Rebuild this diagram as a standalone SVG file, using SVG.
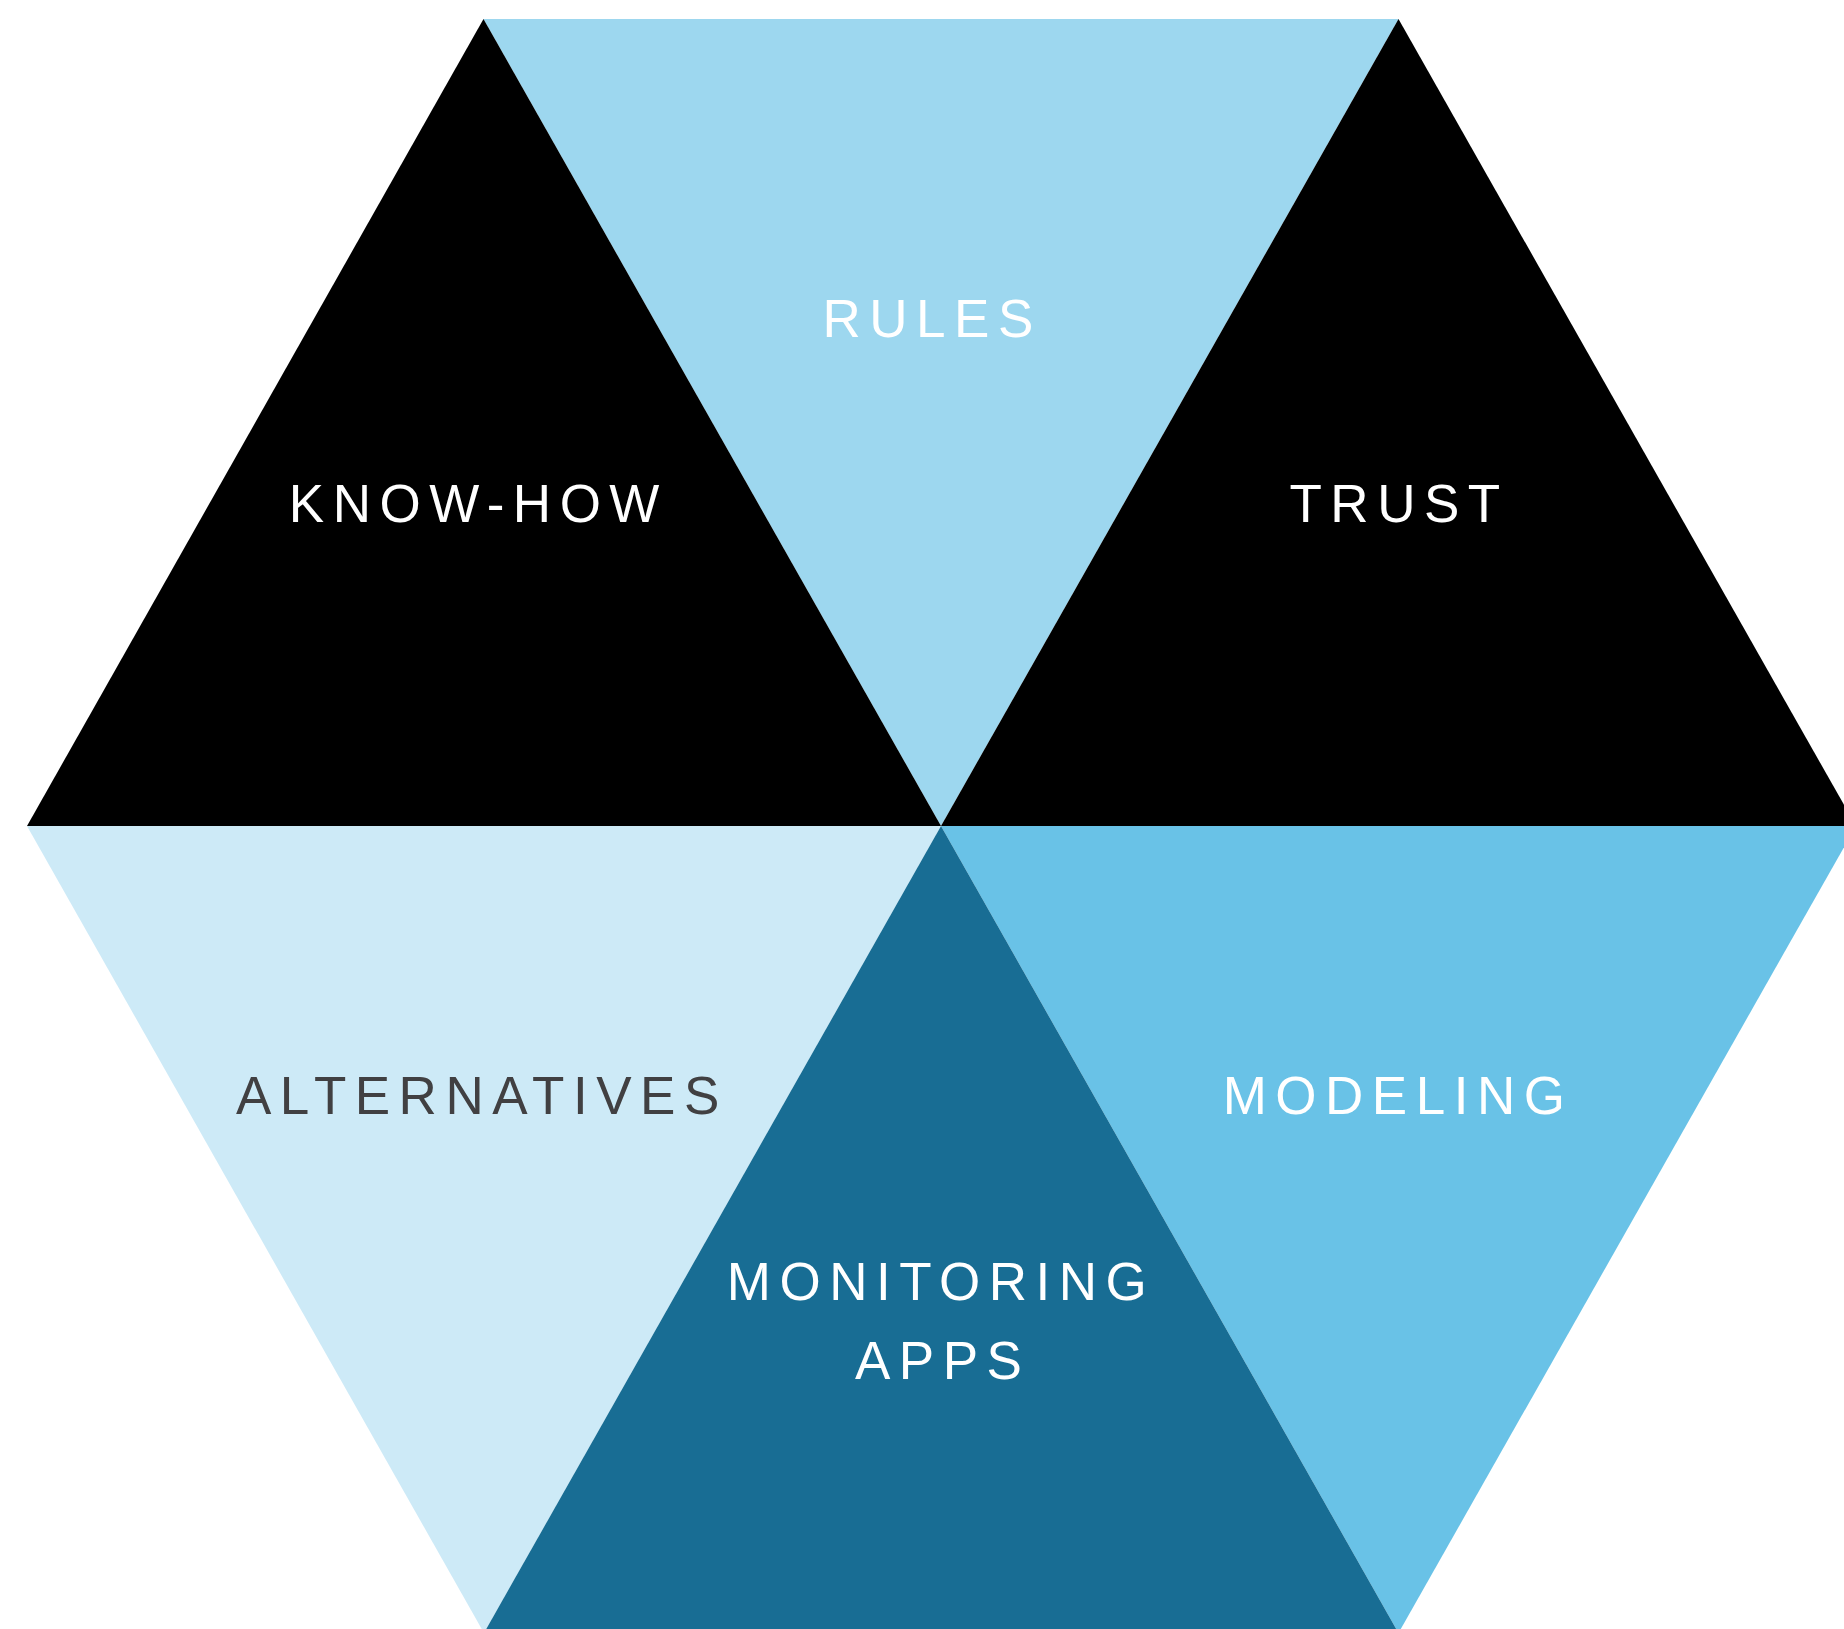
<svg xmlns="http://www.w3.org/2000/svg" width="1844" height="1629" viewBox="0 0 1844 1629">
<style>
.lbl{font-family:"Liberation Sans",Arial,sans-serif;font-size:53px;letter-spacing:8.5px;fill:#ffffff}
.dark{fill:#414042}
</style>
<rect width="1844" height="1629" fill="#ffffff"/>
<g id="rules"><polygon points="483.5,19 1398.5,19 941,826" fill="#9DD7EF"/><text class="lbl" x="822.5" y="336.7">RULES</text></g>
<g id="know-how"><polygon points="483.5,19 27,826 941,826" fill="#000000"/><text class="lbl" x="288.8" y="522.3">KNOW-HOW</text></g>
<g id="trust"><polygon points="1398.5,19 941,826 1856,826" fill="#000000"/><text class="lbl" x="1289.5" y="522.3">TRUST</text></g>
<g id="alternatives"><polygon points="27,826 941,826 484,1633" fill="#CDEAF7"/><text class="lbl dark" x="236" y="1114.3">ALTERNATIVES</text></g>
<g id="modeling"><polygon points="941,826 1856,826 1398.5,1633" fill="#69C2E7"/><text class="lbl" x="1222.7" y="1114.3">MODELING</text></g>
<g id="monitoring"><polygon points="941,826 484,1633 1398.5,1633" fill="#186D94"/><text class="lbl" x="726.8" y="1300">MONITORING</text><text class="lbl" x="855" y="1379.3">APPS</text></g>
<g id="connectors"/>
</svg>
